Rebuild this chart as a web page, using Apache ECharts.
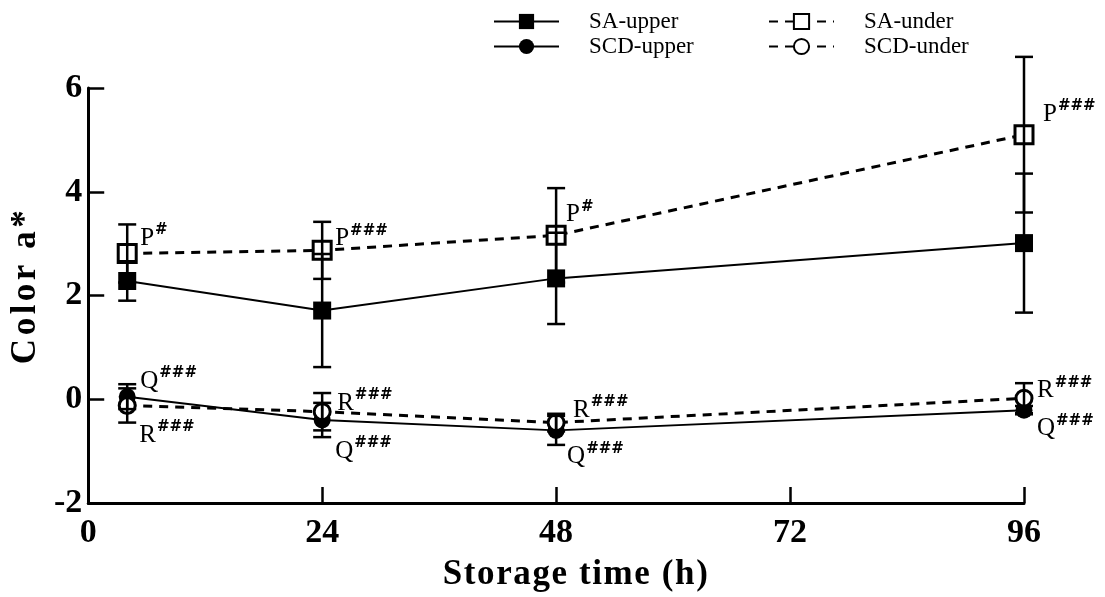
<!DOCTYPE html>
<html>
<head>
<meta charset="utf-8">
<script src="https://cdn.jsdelivr.net/npm/echarts@6/dist/echarts.min.js"></script>
<style>
html,body{margin:0;padding:0;background:#fff;}
#chart{width:1105px;height:597px;}
</style>
</head>
<body>
<div id="chart"></div>
<script>
// ---- data ----
const times = [4, 24, 48, 96];
const xTicks = [0, 24, 48, 72, 96];
const yTicks = [-2, 0, 2, 4, 6];
const seriesNames = ['SA-upper', 'SA-under', 'SCD-upper', 'SCD-under'];
const xName = 'Storage time (h)';
const yName = 'Color a*';
const saUpper = [2.28, 1.71, 2.33, 3.01];
const saUpperErr = [0.38, 1.09, 0.88, 1.34];
const saUnder = [2.81, 2.87, 3.16, 5.10];
const saUnderErr = [0.56, 0.55, 0.91, 1.50];
const scdUpper = [0.05, -0.40, -0.60, -0.21];
const scdUpperErr = [0.24, 0.33, 0.28, 0.08];
const scdUnder = [-0.12, -0.24, -0.45, 0.02];
const scdUnderErr = [0.33, 0.36, 0.17, 0.29];
// significance annotations
const saUnderLetter = 'P';
const saUnderSig = ['#', '###', '#', '###'];
const scdUpperLetter = 'Q';
const scdUpperSig = ['###', '###', '###', '###'];
const scdUnderLetter = 'R';
const scdUnderSig = ['###', '###', '###', '###'];

// ---- layout of annotation labels (pixel offsets from the marker) ----
const saUnderOff = [[13, -17], [13, -13], [10, -22], [19, -22]];
const scdUpperOff = [[13, -17], [13, 30], [11, 25], [13, 17]];
const scdUnderOff = [[12, 28], [15, -10], [17, -14], [13, -9]];

const SERIF = '"Liberation Serif", "Times New Roman", "DejaVu Serif", serif';

// build letter-spaced rich markup for a text (same characters, spaced out)
function spaced(text) {
  return text.split('').map(ch => '{c|' + ch + '}').join('');
}

function richLabel(letter, sig, off) {
  return {
    show: true,
    position: 'inside',
    align: 'left',
    verticalAlign: 'middle',
    offset: off,
    formatter: '{b|' + letter + '}{s|' + sig + '}',
    rich: {
      b: { fontFamily: SERIF, fontSize: 25, color: '#000', lineHeight: 28, verticalAlign: 'bottom' },
      s: { fontFamily: '"DejaVu Sans", sans-serif', fontSize: 15, fontWeight: 'bold', color: '#000', lineHeight: 15, verticalAlign: 'top', padding: [0, 0, 6, 1] }
    }
  };
}

function buildData(vals, letter, sigs, offs) {
  return times.map((t, i) => {
    const item = { value: [t, vals[i]] };
    if (letter) item.label = richLabel(letter, sigs[i], offs[i]);
    return item;
  });
}

const errData = [];
[[saUpper, saUpperErr], [saUnder, saUnderErr], [scdUpper, scdUpperErr], [scdUnder, scdUnderErr]].forEach(([v, e]) => {
  times.forEach((t, i) => errData.push([t, v[i] - e[i], v[i] + e[i]]));
});

const chart = echarts.init(document.getElementById('chart'), null, { renderer: 'canvas' });

const legendText = { fontFamily: SERIF, fontSize: 23, color: '#000', lineHeight: 25, padding: [0, 0, 0, 25] };

const option = {
  backgroundColor: '#fff',
  animation: false,
  grid: { left: 87, right: 81, top: 88, bottom: 92 },
  legend: [
    {
      data: [seriesNames[0], seriesNames[2]], orient: 'vertical', left: 488, top: 4,
      itemWidth: 65, itemHeight: 19, itemGap: 0, textStyle: legendText, selectedMode: false
    },
    {
      data: [seriesNames[1], seriesNames[3]], orient: 'vertical', left: 763, top: 4,
      itemWidth: 65, itemHeight: 19, itemGap: 0, textStyle: legendText, selectedMode: false
    }
  ],
  xAxis: {
    type: 'value', min: xTicks[0], max: xTicks[xTicks.length - 1], interval: 24,
    name: spaced(xName), nameLocation: 'middle', nameGap: 54,
    nameTextStyle: {
      padding: [0, 0, 0, 40],
      rich: { c: { fontFamily: SERIF, fontSize: 35, fontWeight: 'bold', color: '#000', padding: [0, 1.6, 0, 0] } }
    },
    axisLine: { onZero: false, lineStyle: { color: '#000', width: 3 } },
    axisTick: { inside: true, length: 16, lineStyle: { color: '#000', width: 2.5 } },
    axisLabel: { margin: 13, fontFamily: SERIF, fontSize: 34, fontWeight: 'bold', color: '#000' },
    splitLine: { show: false }
  },
  yAxis: {
    type: 'value', min: yTicks[0], max: yTicks[yTicks.length - 1], interval: 2,
    name: spaced(yName), nameLocation: 'middle', nameGap: 44, nameRotate: 90,
    nameTextStyle: {
      padding: [0, 0, 0, 20],
      rich: { c: { fontFamily: SERIF, fontSize: 35, fontWeight: 'bold', color: '#000', padding: [0, 3.5, 0, 0] } }
    },
    axisLine: { show: true, onZero: false, lineStyle: { color: '#000', width: 3 } },
    axisTick: { show: true, inside: true, length: 16, lineStyle: { color: '#000', width: 2.5 } },
    axisLabel: { margin: 6, fontFamily: SERIF, fontSize: 34, fontWeight: 'bold', color: '#000' },
    splitLine: { show: false }
  },
  series: [
    {
      name: seriesNames[0], type: 'line', data: buildData(saUpper),
      symbol: 'rect', symbolSize: 18, z: 3,
      itemStyle: { color: '#000' },
      lineStyle: { color: '#000', width: 2, type: 'solid' }
    },
    {
      name: seriesNames[1], type: 'line', data: buildData(saUnder, saUnderLetter, saUnderSig, saUnderOff),
      symbol: 'rect', symbolSize: 18, z: 3,
      itemStyle: { color: '#fff', borderColor: '#000', borderWidth: 3 },
      lineStyle: { color: '#000', width: 3, type: [9, 7] }
    },
    {
      name: seriesNames[2], type: 'line', data: buildData(scdUpper, scdUpperLetter, scdUpperSig, scdUpperOff),
      symbol: 'circle', symbolSize: 17, z: 3,
      itemStyle: { color: '#000' },
      lineStyle: { color: '#000', width: 2, type: 'solid' }
    },
    {
      name: seriesNames[3], type: 'line', data: buildData(scdUnder, scdUnderLetter, scdUnderSig, scdUnderOff),
      symbol: 'circle', symbolSize: 16, z: 3,
      itemStyle: { color: '#fff', borderColor: '#000', borderWidth: 3 },
      lineStyle: { color: '#000', width: 3, type: [9, 7] }
    },
    {
      name: 'err', type: 'custom', clip: false, z: 4, silent: true,
      data: errData,
      renderItem: function (params, api) {
        const x = api.value(0);
        const lo = api.coord([x, api.value(1)]);
        const hi = api.coord([x, api.value(2)]);
        const hw = 9;
        const style = { stroke: '#000', lineWidth: 2.5 };
        return {
          type: 'group',
          children: [
            { type: 'line', shape: { x1: lo[0], y1: lo[1], x2: hi[0], y2: hi[1] }, style: style },
            { type: 'line', shape: { x1: lo[0] - hw, y1: lo[1], x2: lo[0] + hw, y2: lo[1] }, style: style },
            { type: 'line', shape: { x1: hi[0] - hw, y1: hi[1], x2: hi[0] + hw, y2: hi[1] }, style: style }
          ]
        };
      }
    }
  ]
};
chart.setOption(option);
</script>
</body>
</html>
